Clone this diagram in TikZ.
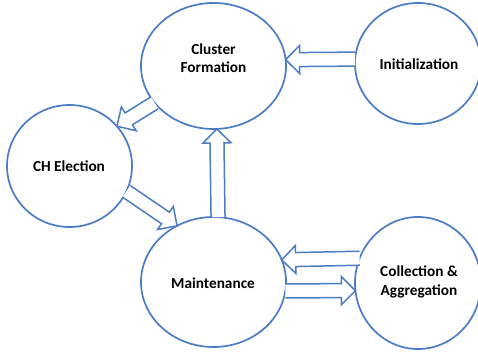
\documentclass[tikz,border=0pt]{standalone}
\usepackage{fontspec}
\setmainfont{Carlito}
\usetikzlibrary{shapes.geometric,calc}
\definecolor{cblue}{RGB}{76,124,196}
\tikzset{
  stage/.style={ellipse, draw=cblue, line width=1.7pt, fill=white, inner sep=0pt, outer sep=0pt},
  lbl/.style={align=center, font=\fontsize{15.3}{18.5}\selectfont\bfseries},
  barr/.style={draw=cblue, fill=white, line width=1.5pt, line join=miter}
}
\newcommand\blockarrow[3]{%
  \coordinate (#3H) at ($(#2)!14pt!(#1)$);
  \filldraw[barr] ($(#1)!7pt!90:(#2)$) -- ($(#3H)!7pt!-90:(#1)$) -- ($(#3H)!14pt!-90:(#1)$)
    -- (#2) -- ($(#3H)!14pt!90:(#1)$) -- ($(#3H)!7pt!90:(#1)$) -- ($(#1)!7pt!-90:(#2)$);
}
\begin{document}
\begin{tikzpicture}[x=1pt,y=-1pt]
\useasboundingbox (0,0) rectangle (478,352);
\clip (0,0) rectangle (478,352);
\fill[white] (0,0) rectangle (478,352);
\node[stage, minimum width=145pt, minimum height=126pt] (cf) at (213.5,66) {};
\node[stage, minimum width=126pt, minimum height=121pt] (init) at (418,63.5) {};
\node[stage, minimum width=125pt, minimum height=122pt] (ch) at (69.5,166) {};
\node[stage, minimum width=145pt, minimum height=130pt] (mt) at (213.5,282) {};
\node[stage, minimum width=126pt, minimum height=132pt] (ca) at (418,283) {};
\node[lbl] (cft) at (213.5,58) {Cluster\\Formation};
\node[lbl] (initt) at (419,64) {Initialization};
\node[lbl] (cht) at (69,166) {CH Election};
\node[lbl] (mtt) at (213,283) {Maintenance};
\node[lbl] (cat) at (419,282) {Collection \&\\Aggregation};
\blockarrow{init.176}{cf.5.6}{a1}
\blockarrow{cf.212.6}{ch.40}{a2}
\blockarrow{ch.-24.9}{mt.123.3}{a3}
\blockarrow{mt.86.5}{cf.273.6}{a4}
\blockarrow{ca.157.5}{mt.18.8}{a5}
\blockarrow{mt.-7}{ca.187.9}{a6}
\end{tikzpicture}
\end{document}
